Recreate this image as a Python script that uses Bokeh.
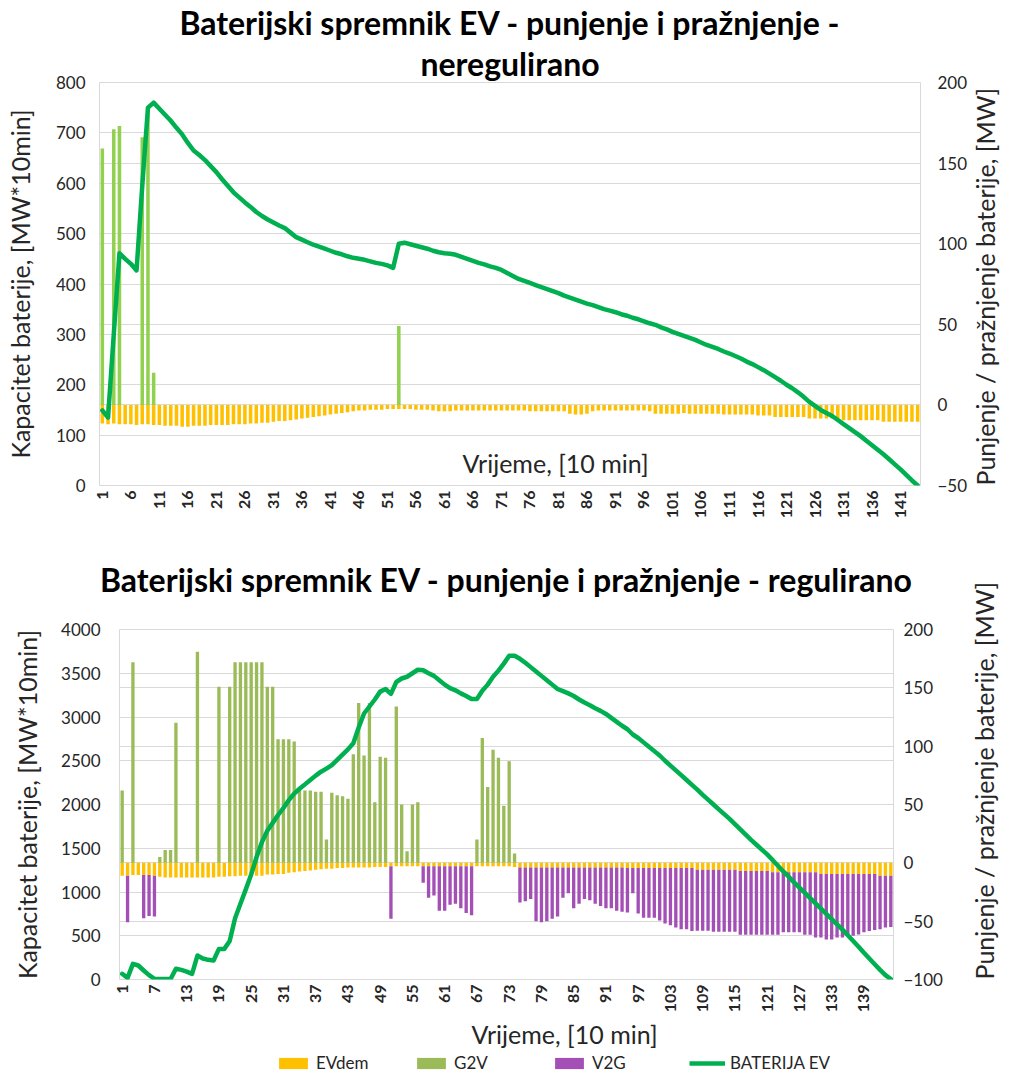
import math
import numpy as np
from bokeh.plotting import figure
from bokeh.models import (Range1d, LinearAxis, FixedTicker, Grid, Label, Title,
                          Legend, LegendItem)
from bokeh.embed import file_html
from bokeh.resources import INLINE

# ---------------- data ----------------
intervals = np.arange(1, 145)

top_ticks = [1, 6, 11, 16, 21, 26, 31, 36, 41, 46, 51, 56, 61, 66, 71, 76, 81, 86,
             91, 96, 101, 106, 111, 116, 121, 126, 131, 136, 141]
bot_ticks = [1, 7, 13, 19, 25, 31, 37, 43, 49, 55, 61, 67, 73, 79, 85, 91, 97, 103,
             109, 115, 121, 127, 133, 139]

top_left_ticks = [0, 100, 200, 300, 400, 500, 600, 700, 800]
top_right_ticks = [-50, 0, 50, 100, 150, 200]
bot_left_ticks = [0, 500, 1000, 1500, 2000, 2500, 3000, 3500, 4000]
bot_right_ticks = [-100, -50, 0, 50, 100, 150, 200]

# --- neregulirano ---
top_evdem = [
    -11.5, -12, -11.5, -12, -12, -12, -12.5, -12, -12, -12.5,
    -12.5, -13, -13, -13, -13.5, -13.5, -13, -13, -13, -12.5,
    -12.5, -12.5, -12.5, -12, -12, -12, -11.5, -11.5, -11, -11,
    -10.5, -10, -10, -9.5, -9, -8.5, -8, -7.5, -7, -6.5,
    -6, -5.5, -5, -4.5, -4, -3.5, -3.5, -3, -3, -3,
    -2.5, -2.5, -2.5, -2.5, -2.5, -3, -3, -3, -3.5, -4,
    -4, -4, -3.5, -3.5, -3.5, -3.5, -3.5, -3.5, -3.5, -3.5,
    -3.5, -3.5, -3.5, -3.5, -3.5, -4, -4, -4, -4, -4,
    -4, -4, -5.5, -6, -6, -5.5, -4, -3.5, -3.5, -3.5,
    -3.5, -3.5, -3.5, -3.5, -3.5, -3.5, -4, -5.5, -5.5, -5.5,
    -5.5, -5.5, -5, -5.5, -5.5, -5.5, -5.5, -5.5, -5.5, -6,
    -6, -6, -6, -6, -6, -6.5, -6.5, -6.5, -7.5, -7.5,
    -7.5, -7.5, -7.5, -7.5, -8.5, -8.5, -8.5, -8.5, -8.5, -8.5,
    -9.5, -9.5, -9.5, -9.5, -9.5, -9.5, -9.5, -10.5, -10.5, -10.5,
    -10.5, -10.5, -10.5, -10.5]

top_g2v = [
    159, 0, 171, 173, 0, 0, 0, 166, 184, 20,
    0, 0, 0, 0, 0, 0, 0, 0, 0, 0,
    0, 0, 0, 0, 0, 0, 0, 0, 0, 0,
    0, 0, 0, 0, 0, 0, 0, 0, 0, 0,
    0, 0, 0, 0, 0, 0, 0, 0, 0, 0,
    0, 0, 49, 0, 0, 0, 0, 0, 0, 0,
    0, 0, 0, 0, 0, 0, 0, 0, 0, 0,
    0, 0, 0, 0, 0, 0, 0, 0, 0, 0,
    0, 0, 0, 0, 0, 0, 0, 0, 0, 0,
    0, 0, 0, 0, 0, 0, 0, 0, 0, 0,
    0, 0, 0, 0, 0, 0, 0, 0, 0, 0,
    0, 0, 0, 0, 0, 0, 0, 0, 0, 0,
    0, 0, 0, 0, 0, 0, 0, 0, 0, 0,
    0, 0, 0, 0, 0, 0, 0, 0, 0, 0,
    0, 0, 0, 0]

top_bat = [
    149, 135, 300, 461, 450, 440, 427, 595, 750, 760,
    748, 736, 724, 710, 697, 680, 665, 656, 646, 634,
    622, 608, 595, 582, 572, 562, 553, 543, 535, 528,
    522, 516, 511, 502, 493, 488, 483, 478, 474, 470,
    466, 462, 459, 455, 452, 450, 448, 445, 442, 440,
    437, 432, 480, 482, 479, 476, 473, 470, 466, 463,
    461, 460, 458, 454, 450, 446, 442, 439, 435, 432,
    428, 422, 416, 410, 406, 402, 398, 394, 390, 386,
    382, 377, 373, 369, 365, 361, 358, 354, 350, 347,
    344, 340, 337, 333, 330, 326, 322, 319, 314, 310,
    305, 301, 297, 293, 289, 284, 279, 275, 271, 266,
    262, 257, 252, 246, 241, 235, 229, 222, 215, 208,
    200, 193, 185, 176, 166, 158, 150, 144, 138, 130,
    122, 114, 106, 98, 89, 80, 71, 62, 52, 42,
    32, 21, 10, 0]

# --- regulirano ---
bot_evdem = [
    -11, -11, -10.5, -10.5, -10.5, -10.5, -11, -12, -12.5, -12.5,
    -12.5, -12.5, -12.5, -12.5, -12.5, -12.5, -12.5, -12.5, -12, -12,
    -11.5, -11.5, -11, -11, -11, -11, -11, -10, -10, -9.5,
    -9.5, -8.5, -8, -7.5, -7, -6.5, -6, -5.5, -5, -5,
    -4.5, -4.5, -4, -4, -4, -4, -4, -3.5, -3.5, -3.5,
    -3, -3, -3, -3, -3, -3, -3, -3, -3, -3,
    -3, -3, -3, -3, -3, -3, -3, -3, -3, -3,
    -3, -3, -3, -3.5, -4, -4, -4, -4, -4, -4,
    -4, -4, -4, -4, -4, -4, -4, -4, -4, -4,
    -4, -4, -4, -4, -4.5, -4.5, -4.5, -4.5, -4.5, -4.5,
    -4.5, -4.5, -4.5, -4.5, -4.5, -4.5, -4.5, -6, -6, -6,
    -6, -6, -6, -6, -6, -7, -7, -7, -7, -7,
    -7, -8, -8, -8, -8, -8, -8, -8, -8, -8,
    -9.5, -9.5, -9.5, -9.5, -9.5, -9.5, -9.5, -9.5, -9.5, -9.5,
    -9.5, -11, -11, -11]

bot_g2v = [
    62, 0, 172, 0, 0, 0, 0, 5, 11, 11,
    120, 0, 0, 0, 181, 0, 0, 0, 151, 0,
    151, 172, 172, 172, 172, 172, 172, 151, 151, 106,
    106, 106, 104, 62, 62, 62, 61, 61, 20, 60,
    58, 57, 55, 93, 137, 92, 137, 52, 91, 90,
    0, 134, 50, 10, 50, 52, 0, 0, 0, 0,
    0, 0, 0, 0, 0, 0, 20, 107, 65, 97,
    90, 49, 87, 8, 0, 0, 0, 0, 0, 0,
    0, 0, 0, 0, 0, 0, 0, 0, 0, 0,
    0, 0, 0, 0, 0, 0, 0, 0, 0, 0,
    0, 0, 0, 0, 0, 0, 0, 0, 0, 0,
    0, 0, 0, 0, 0, 0, 0, 0, 0, 0,
    0, 0, 0, 0, 0, 0, 0, 0, 0, 0,
    0, 0, 0, 0, 0, 0, 0, 0, 0, 0,
    0, 0, 0, 0]

bot_v2g = [
    0, -40, 0, 0, -37, -35, -35, 0, 0, 0,
    0, 0, 0, 0, 0, 0, 0, 0, 0, 0,
    0, 0, 0, 0, 0, 0, 0, 0, 0, 0,
    0, 0, 0, 0, 0, 0, 0, 0, 0, 0,
    0, 0, 0, 0, 0, 0, 0, 0, 0, 0,
    -45, 0, 0, 0, 0, 0, -14, -27, -25, -38,
    -38, -33, -32, -36, -40, -42, 0, 0, 0, 0,
    0, 0, 0, 0, -30, -29, -27, -46, -47, -46,
    -44, -42, -26, -22, -35, -31, -27, -28, -31, -33,
    -35, -35, -37, -38, -38, -21.5, -39, -42.5, -42.5, -42.5,
    -45, -47.5, -49, -51, -52.5, -52.5, -54, -52.3, -52.3, -52.3,
    -53, -53, -53, -53, -53, -54.7, -54.7, -54.7, -54.7, -54.7,
    -54.7, -53.7, -53.7, -51.5, -51.5, -51.5, -51.5, -53.7, -53.7, -56,
    -54.5, -56.2, -56.2, -54.5, -54.5, -53, -53, -52, -50, -49,
    -48, -46, -44.4, -44]

bot_bat = [
    65, 19, 179, 160, 103, 50, 8, 5, 5, 5,
    122, 110, 90, 65, 274, 240, 225, 217, 350, 350,
    440, 700, 865, 1030, 1200, 1400, 1570, 1700, 1790, 1880,
    1960, 2050, 2125, 2180, 2230, 2280, 2330, 2375, 2410, 2450,
    2510, 2570, 2630, 2700, 2880, 3040, 3120, 3200, 3290, 3320,
    3265, 3400, 3440, 3460, 3500, 3540, 3535, 3500, 3470, 3420,
    3370, 3330, 3305, 3270, 3240, 3205, 3205, 3300, 3370, 3460,
    3530, 3610, 3700, 3700, 3665, 3620, 3570, 3520, 3470, 3420,
    3370, 3320, 3295, 3270, 3240, 3200, 3165, 3135, 3100, 3070,
    3035, 2990, 2945, 2900, 2860, 2800, 2760, 2710, 2660, 2610,
    2560, 2500, 2445, 2390, 2335, 2280, 2225, 2170, 2110, 2055,
    2000, 1945, 1890, 1835, 1775, 1715, 1655, 1595, 1540, 1485,
    1430, 1365, 1300, 1235, 1175, 1110, 1050, 990, 930, 870,
    810, 750, 690, 630, 570, 505, 440, 375, 305, 240,
    175, 110, 50, 5]

legend_labels = ["EVdem", "G2V", "V2G", "BATERIJA EV"]

# ---------------- style ----------------
FONT = "Lato"
TXT = "#262626"
GRID = "#D9D9D9"
C_EV = "#FFC000"
C_G2V_TOP = "#92D050"
C_G2V = "#9BBB59"
C_V2G = "#A34FB5"
C_BAT = "#00B050"
BAR_W = 0.62
LEFT_TITLE = "Kapacitet baterije, [MW*10min]"
RIGHT_TITLE = "Punjenje / pražnjenje baterije, [MW]"
X_TITLE = "Vrijeme, [10 min]"
AX_TITLE_SIZE = "25px"


def style_axis(ax, ticks, label=None, lsize="17px", bold=False, standoff=12,
               label_standoff=18):
    ax.ticker = FixedTicker(ticks=ticks)
    ax.axis_line_color = None
    ax.major_tick_line_color = None
    ax.minor_tick_line_color = None
    ax.major_tick_out = 0
    ax.major_tick_in = 0
    ax.minor_tick_out = 0
    ax.minor_tick_in = 0
    ax.major_label_text_font = FONT
    ax.major_label_text_font_size = lsize
    ax.major_label_text_color = TXT
    ax.major_label_text_font_style = "bold" if bold else "normal"
    ax.major_label_standoff = standoff
    ax.axis_label = label
    ax.axis_label_text_font = FONT
    ax.axis_label_text_font_size = AX_TITLE_SIZE
    ax.axis_label_text_font_style = "normal"
    ax.axis_label_text_color = TXT
    ax.axis_label_standoff = label_standoff


def base_fig(height, mbl, mbr, mbt, mbb, yl, yr, lt, rt, xt,
             lstand, llstand, rstand, rlstand):
    p = figure(width=1018, height=height, x_range=Range1d(0.5, 144.5),
               y_range=Range1d(*yl), output_backend="svg", toolbar_location=None,
               min_border_left=mbl, min_border_right=mbr,
               min_border_top=mbt, min_border_bottom=mbb)
    p.extra_y_ranges = {"r": Range1d(*yr)}
    p.outline_line_color = GRID
    p.background_fill_color = "white"
    p.border_fill_color = "white"
    p.xgrid.visible = False
    p.ygrid.ticker = FixedTicker(ticks=lt)
    p.ygrid.grid_line_color = GRID
    p.add_layout(Grid(dimension=1, ticker=FixedTicker(ticks=rt), y_range_name="r",
                      grid_line_color=GRID))
    style_axis(p.yaxis[0], lt, LEFT_TITLE, standoff=lstand, label_standoff=llstand)
    rax = LinearAxis(y_range_name="r")
    style_axis(rax, rt, RIGHT_TITLE, standoff=rstand, label_standoff=rlstand)
    rax.axis_label_orientation = math.pi / 2
    try:
        rax.axis_label_align = "start"
    except Exception:
        pass
    p.add_layout(rax, "right")
    style_axis(p.xaxis[0], xt, None, lsize="16px", bold=True, standoff=5)
    p.xaxis[0].major_label_orientation = math.pi / 2
    return p


def title(text, standoff, offset):
    return Title(text=text, align="center", text_font=FONT, text_font_size="32px",
                 text_font_style="bold", text_color="black", standoff=standoff,
                 offset=offset)


# ---------------- top chart ----------------
p1 = base_fig(525, 99, 95, 82, 40, (0, 800), (-50, 200),
              top_left_ticks, top_right_ticks, top_ticks, 14, 18, 17, 15)
p1.vbar(x=intervals, width=BAR_W, top=0, bottom=top_evdem, y_range_name="r",
        fill_color=C_EV, line_color=None)
p1.vbar(x=intervals, width=BAR_W, top=top_g2v, bottom=0, y_range_name="r",
        fill_color=C_G2V_TOP, line_color=None)
p1.line(x=intervals, y=top_bat, line_color=C_BAT, line_width=4.5,
        line_join="round", line_cap="round")
p1.add_layout(Label(x=80.5, y=45, text=X_TITLE, text_font=FONT,
                    text_font_size="25px", text_color=TXT, text_align="center",
                    text_baseline="middle"))
p1.add_layout(title("neregulirano", 0, -8), "above")
p1.add_layout(title("Baterijski spremnik EV - punjenje i pražnjenje -", 0, -8), "above")

# ---------------- bottom chart ----------------
p2 = base_fig(494, 119, 125, 104, 40, (0, 4000), (-100, 200),
              bot_left_ticks, bot_right_ticks, bot_ticks, 19, 16, 10, 38)
ev = np.array(bot_evdem, dtype=float)
v2 = np.array(bot_v2g, dtype=float)
p2.vbar(x=intervals, width=BAR_W, top=0, bottom=ev, y_range_name="r",
        fill_color=C_EV, line_color=None)
p2.vbar(x=intervals, width=BAR_W, top=bot_g2v, bottom=0, y_range_name="r",
        fill_color=C_G2V, line_color=None)
p2.vbar(x=intervals, width=BAR_W, top=ev, bottom=ev + v2, y_range_name="r",
        fill_color=C_V2G, line_color=None)
p2.line(x=intervals, y=bot_bat, line_color=C_BAT, line_width=4.5,
        line_join="round", line_cap="round")
p2.add_layout(title("Baterijski spremnik EV - punjenje i pražnjenje - regulirano",
                    62, 13), "above")

# ---------------- x-axis title + legend strip ----------------
p3 = figure(width=1018, height=55, x_range=Range1d(0, 1018), y_range=Range1d(0, 55),
            output_backend="svg", toolbar_location=None, min_border=0,
            x_axis_location=None, y_axis_location=None)
p3.grid.visible = False
p3.outline_line_color = None
p3.add_layout(Label(x=564, y=41, text=X_TITLE, text_font=FONT,
                    text_font_size="25px", text_color=TXT, text_align="center",
                    text_baseline="middle"))
# legend proxies (no visible data, only their styles are shown in the legend)
nan = [float("nan")]
k_ev = p3.vbar(x=nan, top=nan, width=1, fill_color=C_EV, line_color=None)
k_g2v = p3.vbar(x=nan, top=nan, width=1, fill_color=C_G2V, line_color=None)
k_v2g = p3.vbar(x=nan, top=nan, width=1, fill_color=C_V2G, line_color=None)
k_bat = p3.line(x=nan, y=nan, line_color=C_BAT, line_width=4.5)
legend = Legend(items=[LegendItem(label=lab, renderers=[r], index=0) for lab, r in
                       zip(legend_labels, [k_ev, k_g2v, k_v2g, k_bat])],
                orientation="horizontal", location=(275, 1),
                border_line_color=None, background_fill_alpha=0,
                glyph_width=36, glyph_height=14, label_standoff=5, spacing=0,
                label_width=97, padding=0, margin=0, label_text_font=FONT,
                label_text_font_size="17px", label_text_color=TXT)
p3.add_layout(legend)

open("out.html", "w").write(file_html([p1, p2, p3], INLINE))
